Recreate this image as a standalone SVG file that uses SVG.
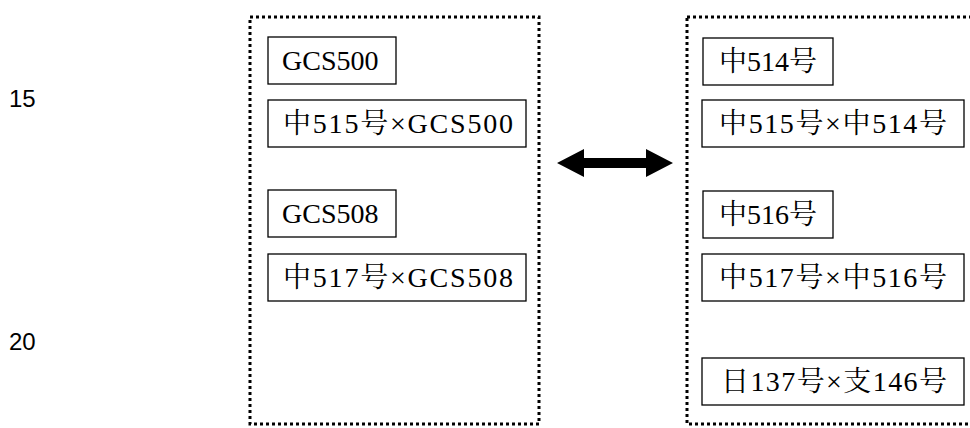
<svg xmlns="http://www.w3.org/2000/svg" width="970" height="428" viewBox="0 0 970 428">
<style>
.grp{fill:none;stroke:#000;stroke-width:3;stroke-dasharray:3 3}
.box{fill:#fff;stroke:#000;stroke-width:1.3}
text{fill:#000}
.t{font-family:"Liberation Serif","Noto Serif CJK SC","Noto Sans CJK SC",serif;font-size:28px}
.n{font-family:"Liberation Sans",Arial,sans-serif;font-size:24px}
</style>
<text class="n" x="9" y="107">15</text>
<text class="n" x="9" y="350">20</text>
<g id="groupLeft">
<rect class="grp" x="250" y="17" width="289" height="407"/>
</g>
<g id="groupRight">
<rect class="grp" x="687" y="17" width="300" height="407"/>
</g>
<g id="n1"><rect class="box" x="268" y="37" width="128" height="47"/><text class="t" x="282" y="70">GCS500</text></g>
<g id="n2"><rect class="box" x="268" y="100" width="258" height="47"/><text class="t" x="283" y="133" textLength="230" lengthAdjust="spacing">中515号×GCS500</text></g>
<g id="n3"><rect class="box" x="268" y="190" width="128" height="47"/><text class="t" x="282" y="223">GCS508</text></g>
<g id="n4"><rect class="box" x="268" y="254" width="258" height="47"/><text class="t" x="283" y="287" textLength="230" lengthAdjust="spacing">中517号×GCS508</text></g>
<g id="n5"><rect class="box" x="703" y="38" width="130" height="47"/><text class="t" x="719" y="71">中514号</text></g>
<g id="n6"><rect class="box" x="702" y="100" width="262" height="47"/><text class="t" x="719" y="133" textLength="228" lengthAdjust="spacing">中515号×中514号</text></g>
<g id="n7"><rect class="box" x="703" y="191" width="130" height="47"/><text class="t" x="719" y="224">中516号</text></g>
<g id="n8"><rect class="box" x="702" y="254" width="262" height="47"/><text class="t" x="719" y="287" textLength="228" lengthAdjust="spacing">中517号×中516号</text></g>
<g id="n9"><rect class="box" x="702" y="358" width="262" height="47"/><text class="t" x="721" y="391" textLength="226" lengthAdjust="spacing">日137号×支146号</text></g>
<g id="connectors">
<polygon points="557,163 584,149 584,158 646,158 646,149 673,163 646,177 646,168 584,168 584,177" fill="#000"/>
</g>
</svg>
